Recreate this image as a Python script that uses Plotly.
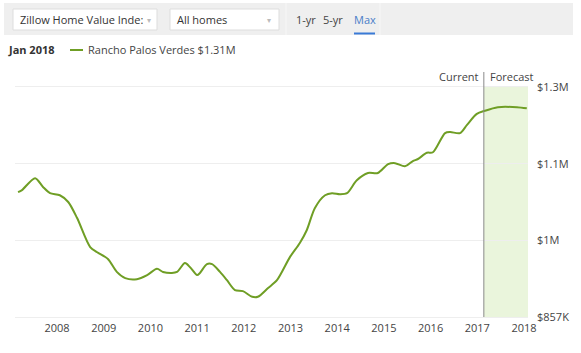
import plotly.graph_objects as go

W, H = 581, 353

# ---- data (decimal year, value in $K) ----
years = [2007.165, 2007.25, 2007.53, 2007.70, 2007.85, 2008.06, 2008.24, 2008.43, 2008.71, 2008.86,
         2009.09, 2009.28, 2009.46, 2009.71, 2009.93, 2010.14, 2010.27, 2010.46, 2010.57, 2010.74,
         2010.85, 2011.00, 2011.06, 2011.21, 2011.32, 2011.49, 2011.64, 2011.81, 2011.98, 2012.18,
         2012.30, 2012.52, 2012.71, 2012.99, 2013.20, 2013.35, 2013.52, 2013.74, 2013.89, 2014.06,
         2014.21, 2014.42, 2014.66, 2014.87, 2015.09, 2015.24, 2015.45, 2015.62, 2015.73, 2015.92,
         2016.05, 2016.31, 2016.42, 2016.63, 2016.78, 2016.99, 2017.16, 2017.44, 2017.85, 2018.06]
values_k = [1098, 1102, 1125, 1108, 1096, 1092, 1079, 1048, 992, 982,
            969, 944, 932, 930, 938, 950, 944, 942, 944, 961,
            953, 938, 942, 959, 959, 944, 928, 909, 907, 896,
            896, 913, 928, 973, 1000, 1025, 1067, 1092, 1096, 1094,
            1096, 1121, 1135, 1135, 1152, 1154, 1148, 1158, 1162, 1174,
            1175, 1212, 1214, 1212, 1228, 1249, 1255, 1262, 1262, 1260]

x_tick_vals = [2008, 2009, 2010, 2011, 2012, 2013, 2014, 2015, 2016, 2017, 2018]
x_tick_text = ["2008", "2009", "2010", "2011", "2012", "2013", "2014", "2015", "2016", "2017", "2018"]
y_tick_vals = [857, 1005, 1153, 1301]
y_tick_text = ["$857K", "$1M", "$1.1M", "$1.3M"]

current_x = 2017.14
forecast_end = 2018.086
series_name = "Rancho Palos Verdes $1.31M"
date_label = "Jan 2018"

GREEN = "#6f9e25"
FONT = "Open Sans"
TXT = "#444444"


def px(x):
    return x / W


def py(y):
    return (H - y) / H


fig = go.Figure()
fig.add_trace(go.Scatter(x=years, y=values_k, mode="lines", name=series_name,
                         line=dict(color=GREEN, width=2, shape="spline", smoothing=0.8),
                         showlegend=False, hoverinfo="skip"))

shapes = []
# forecast band
shapes.append(dict(type="rect", xref="x", yref="y", x0=current_x, x1=forecast_end,
                   y0=857, y1=1301, fillcolor="#eaf5dc", line=dict(width=0), layer="below"))
# current line
shapes.append(dict(type="line", xref="x", yref="paper", x0=current_x, x1=current_x,
                   y0=py(317), y1=py(72), line=dict(color="#8a8a8a", width=1)))
# top control bar
shapes.append(dict(type="rect", xref="paper", yref="paper", x0=px(4), x1=px(573),
                   y0=py(35), y1=py(3), fillcolor="#efefef", line=dict(width=0)))
shapes.append(dict(type="line", xref="paper", yref="paper", x0=px(286), x1=px(286),
                   y0=py(35), y1=py(3), line=dict(color="#f7f7f7", width=1)))
shapes.append(dict(type="line", xref="paper", yref="paper", x0=px(380), x1=px(380),
                   y0=py(35), y1=py(3), line=dict(color="#f7f7f7", width=1)))
# dropdowns
shapes.append(dict(type="rect", xref="paper", yref="paper", x0=px(13), x1=px(157),
                   y0=py(30), y1=py(9), fillcolor="white", line=dict(color="#dddddd", width=1)))
shapes.append(dict(type="rect", xref="paper", yref="paper", x0=px(170), x1=px(279),
                   y0=py(30), y1=py(9), fillcolor="white", line=dict(color="#dddddd", width=1)))
# Max underline
shapes.append(dict(type="line", xref="paper", yref="paper", x0=px(354), x1=px(375),
                   y0=py(33.5), y1=py(33.5), line=dict(color="#3a7ad6", width=2)))
# legend swatch
shapes.append(dict(type="line", xref="paper", yref="paper", x0=px(70), x1=px(83),
                   y0=py(50), y1=py(50), line=dict(color=GREEN, width=2)))


def ann(text, x, y, size=11, color=TXT, anchor="left", bold=False):
    return dict(text=("<b>%s</b>" % text) if bold else text, xref="paper", yref="paper",
                x=px(x), y=py(y), xanchor=anchor, yanchor="middle", showarrow=False,
                font=dict(family=FONT, size=size, color=color))


annotations = [
    ann("Zillow Home Value Inde:", 18, 19.5, 11, "#333333"),
    ann("▾", 149, 19.5, 8, "#bbbbbb", "center"),
    ann("All homes", 175, 19.5, 11, "#333333"),
    ann("▾", 269, 19.5, 8, "#bbbbbb", "center"),
    ann("1-yr", 294, 19.5, 11, "#444444"),
    ann("5-yr", 321, 19.5, 11, "#444444"),
    ann("Max", 352, 19.5, 11, "#4a7ec8"),
    ann(date_label, 6, 50, 11, "#333333", bold=True),
    ann(series_name, 86, 50, 11, "#444444"),
    ann("Current", 481, 76, 11, "#444444", "right"),
    ann("Forecast", 488, 76, 11, "#444444"),
]

fig.update_layout(
    width=W, height=H,
    margin=dict(l=0, r=0, t=0, b=0, autoexpand=False),
    paper_bgcolor="white", plot_bgcolor="white",
    showlegend=False,
    shapes=shapes,
    annotations=annotations,
    xaxis=dict(domain=[px(15), px(528)], range=[2007.10, forecast_end],
               tickvals=x_tick_vals, ticktext=x_tick_text, showgrid=False,
               zeroline=False, showline=False, ticks="", automargin=False,
               tickfont=dict(family=FONT, size=11, color=TXT)),
    yaxis=dict(domain=[py(320), py(70)], range=[851.2, 1333.8], side="right",
               tickvals=y_tick_vals, ticktext=y_tick_text, showgrid=True,
               gridcolor="#eeeeee", gridwidth=1, zeroline=False, showline=False,
               ticks="", ticklabelstandoff=8, automargin=False,
               tickfont=dict(family=FONT, size=11, color=TXT)),
)

fig.write_html("out.html")
